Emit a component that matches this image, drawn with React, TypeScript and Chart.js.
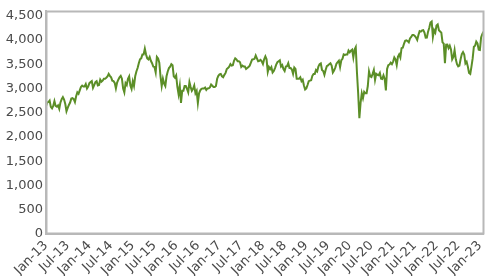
import { useEffect, useRef } from 'react';
import { Chart, registerables } from 'chart.js';

Chart.register(...registerables);

// Index level, three readings per month (≈1st, 11th, 21st), starting Jan 2013
const POINTS_PER_MONTH = 3;

const v2013 = [2636, 2710, 2720, 2750, 2620, 2590, 2640, 2740, 2640, 2624, 2650, 2580, 2712, 2780, 2820, 2770, 2680, 2530, 2600, 2660, 2710, 2790, 2800, 2780, 2720, 2840, 2920, 2890, 2960, 3030, 3060, 3040, 3040, 3090, 3000, 3040];
const v2014 = [3109, 3130, 3150, 3013, 3070, 3130, 3150, 3060, 3070, 3180, 3140, 3160, 3200, 3200, 3220, 3245, 3300, 3260, 3230, 3160, 3150, 3116, 3000, 3120, 3180, 3230, 3260, 3200, 3000, 2920, 3110, 3070, 3200, 3250, 3060, 2990];
const v2015 = [3146, 3050, 3250, 3350, 3420, 3520, 3600, 3620, 3700, 3700, 3820, 3700, 3620, 3600, 3650, 3570, 3520, 3450, 3440, 3330, 3650, 3620, 3530, 3250, 3050, 3200, 3100, 3050, 3250, 3350, 3420, 3450, 3500, 3480, 3250, 3220];
const v2016 = [3268, 3030, 2880, 3050, 2700, 2950, 2950, 3050, 3050, 2990, 2920, 3130, 3028, 2950, 2990, 3060, 2900, 2950, 2700, 2900, 2960, 2990, 3000, 3000, 3020, 2970, 3000, 3002, 3020, 3080, 3055, 3030, 3030, 3050, 3200, 3260];
const v2017 = [3291, 3300, 3250, 3230, 3280, 3320, 3400, 3420, 3450, 3500, 3470, 3480, 3570, 3620, 3600, 3560, 3560, 3540, 3442, 3470, 3450, 3450, 3400, 3420, 3440, 3470, 3530, 3595, 3600, 3610, 3680, 3620, 3560, 3570, 3590, 3560];
const v2018 = [3504, 3600, 3660, 3600, 3340, 3440, 3400, 3440, 3330, 3362, 3420, 3490, 3540, 3560, 3580, 3450, 3480, 3400, 3360, 3450, 3460, 3520, 3420, 3420, 3390, 3300, 3430, 3400, 3200, 3200, 3200, 3230, 3150, 3180, 3060, 2980];
const v2019 = [3001, 3070, 3150, 3160, 3170, 3260, 3300, 3300, 3380, 3350, 3450, 3500, 3515, 3380, 3360, 3280, 3380, 3460, 3474, 3500, 3520, 3470, 3330, 3370, 3430, 3510, 3540, 3570, 3440, 3580, 3610, 3700, 3690, 3700, 3700, 3780];
const v2020 = [3745, 3780, 3800, 3640, 3800, 3850, 3329, 2900, 2385, 2700, 2900, 2800, 2930, 2900, 2900, 3050, 3350, 3250, 3234, 3300, 3380, 3174, 3300, 3280, 3272, 3320, 3200, 3194, 3270, 3200, 2958, 3400, 3480, 3493, 3530, 3500];
const v2021 = [3553, 3640, 3600, 3481, 3650, 3700, 3636, 3830, 3840, 3919, 3980, 3990, 3975, 3950, 4030, 4060, 4100, 4100, 4080, 4050, 4000, 4100, 4180, 4170, 4196, 4200, 4150, 4048, 4050, 4170, 4250, 4360, 4380, 4063, 4200, 4150];
const v2022 = [4298, 4320, 4200, 4175, 4150, 3950, 3924, 3520, 3900, 3903, 3830, 3880, 3803, 3600, 3650, 3789, 3600, 3500, 3455, 3470, 3600, 3708, 3750, 3700, 3517, 3550, 3450, 3318, 3300, 3450, 3618, 3860, 3880, 3965, 3930, 3800];
const v2023 = [3794, 4050, 4120, 4170];

const tickLabels = ['Jan-13', 'Jul-13', 'Jan-14', 'Jul-14', 'Jan-15', 'Jul-15', 'Jan-16', 'Jul-16', 'Jan-17', 'Jul-17', 'Jan-18', 'Jul-18', 'Jan-19', 'Jul-19', 'Jan-20', 'Jul-20', 'Jan-21', 'Jul-21', 'Jan-22', 'Jul-22', 'Jan-23'];
const yTicks = [0, 500, 1000, 1500, 2000, 2500, 3000, 3500, 4000, 4500];

const series = [...v2013, ...v2014, ...v2015, ...v2016, ...v2017, ...v2018, ...v2019, ...v2020, ...v2021, ...v2022, ...v2023];

const FRAME_COLOR = '#b8b8b8';

const frame = {
  id: 'frame',
  afterDraw(chart: any) {
    const { ctx, chartArea } = chart;
    const l = Math.round(chartArea.left) + 0.5;
    const t = Math.round(chartArea.top) + 0.5;
    const r = Math.round(chartArea.right) - 0.5;
    const b = Math.round(chartArea.bottom) - 0.5;
    ctx.save();
    ctx.strokeStyle = FRAME_COLOR;
    ctx.lineWidth = 2;
    ctx.beginPath();
    ctx.moveTo(l, t);
    ctx.lineTo(r, t);
    ctx.lineTo(r, b);
    ctx.lineTo(l, b);
    ctx.closePath();
    ctx.stroke();
    ctx.restore();
  },
};

export default function App() {
  const ref = useRef<HTMLCanvasElement>(null);
  useEffect(() => {
    document.body.style.margin = '0';
    if (!ref.current) return;
    const points = series.map((y, i) => ({ x: i / POINTS_PER_MONTH, y }));
    const font = { family: 'DejaVu Sans', size: 13 };
    const chart = new Chart(ref.current, {
      type: 'line',
      data: {
        datasets: [
          {
            data: points,
            borderColor: '#5b8e27',
            borderWidth: 2,
            pointRadius: 0,
            tension: 0,
            fill: false,
          },
        ],
      },
      options: {
        animation: false,
        responsive: false,
        layout: { padding: { top: 10, right: 9, left: 0, bottom: 0 } },
        plugins: { legend: { display: false }, tooltip: { enabled: false } },
        scales: {
          x: {
            type: 'linear',
            min: 0,
            max: (series.length - 1) / POINTS_PER_MONTH,
            grid: { display: false, drawTicks: false },
            border: { display: true, color: FRAME_COLOR, width: 2 },
            afterBuildTicks: (scale: any) => {
              scale.ticks = tickLabels.map((_, i) => ({ value: i * 6 }));
            },
            afterFit: (scale: any) => {
              scale.height = 42;
            },
            ticks: {
              autoSkip: false,
              minRotation: 45,
              maxRotation: 45,
              padding: 4,
              color: '#4a4a4a',
              font,
              callback: (value: any) => tickLabels[Math.round(Number(value) / 6)] ?? '',
            },
          },
          y: {
            type: 'linear',
            min: 0,
            max: 4600,
            grid: { display: false, drawTicks: false },
            border: { display: true, color: FRAME_COLOR, width: 2 },
            afterBuildTicks: (scale: any) => {
              scale.ticks = yTicks.map((v) => ({ value: v }));
            },
            afterFit: (scale: any) => {
              scale.width = 46;
            },
            ticks: {
              padding: 3,
              color: '#4a4a4a',
              font,
              callback: (value: any) => Number(value).toLocaleString('en-US'),
            },
          },
        },
      },
      plugins: [frame],
    });
    return () => chart.destroy();
  }, []);
  return (
    <div style={{ width: 495, height: 276 }}>
      <canvas ref={ref} width={495} height={276} style={{ display: 'block' }} />
    </div>
  );
}
